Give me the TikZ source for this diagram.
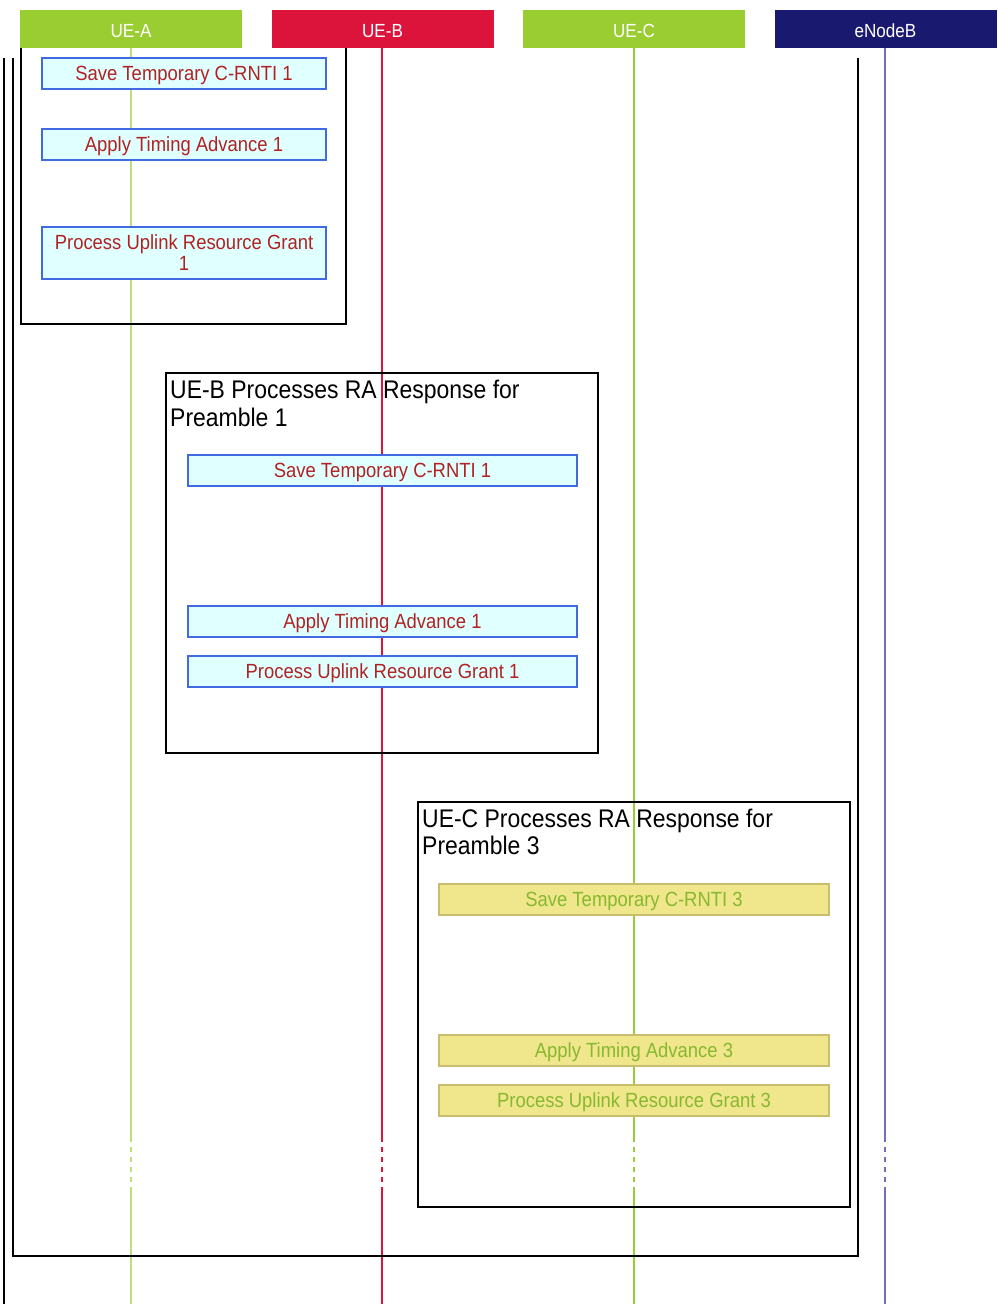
\documentclass[tikz,border=0pt]{standalone}
\usepackage{fontspec}
\setmainfont{Liberation Sans}[FakeStretch=0.9]
\definecolor{yellowgrn}{HTML}{9ACD32}
\definecolor{crimsonred}{HTML}{DC143C}
\definecolor{midnight}{HTML}{191970}
\definecolor{cyanfill}{HTML}{E0FFFF}
\definecolor{royal}{HTML}{4169E1}
\definecolor{brick}{HTML}{B22222}
\definecolor{khakifill}{HTML}{F0E68C}
\definecolor{khakiline}{HTML}{C8BE6E}
\definecolor{olivetext}{HTML}{88B830}
\definecolor{slateline}{HTML}{7070B8}
\begin{document}
\begin{tikzpicture}[x=1pt, y=-1pt,
    head/.style={rectangle, minimum width=222, minimum height=38, inner sep=0,
                 text height=17pt, text depth=0pt,
                 text=white, font=\fontsize{19}{21}\selectfont},
    actbox/.style={rectangle, draw=royal, fill=cyanfill, line width=2.5pt, inner sep=0,
                   text=brick, align=center, font=\fontsize{20.5}{21}\selectfont},
    actboxC/.style={actbox, draw=khakiline, fill=khakifill, text=olivetext},
    oneline/.style={text height=15pt, text depth=2pt},
    frame/.style={draw=black, line width=2.5pt},
    frametitle/.style={anchor=north west, inner sep=0, align=left,
                       font=\fontsize{25.5}{27.6}\selectfont}]
  \useasboundingbox (0,0) rectangle (997,1304);
  % participants
  \node[head, fill=yellowgrn]  (ueA) at (131,29)   {UE-A};
  \node[head, fill=crimsonred] (ueB) at (382.5,29) {UE-B};
  \node[head, fill=yellowgrn]  (ueC) at (634,29)   {UE-C};
  \node[head, fill=midnight]   (enb) at (885.5,29) {eNodeB};
  % lifelines
  \foreach \p/\x/\c in {ueA/131/yellowgrn!65, ueB/382/crimsonred, ueC/634/yellowgrn, enb/885/slateline} {
    \coordinate (\p-d1) at (\x,1137);
    \coordinate (\p-d2) at (\x,1190);
    \coordinate (\p-end) at (\x,1304);
    \draw[\c, line width=1.2pt] (\x,48) -- (\p-d1);
    \draw[\c, line width=1.2pt, dash pattern=on 5pt off 5pt] (\p-d1) -- (\p-d2);
    \draw[\c, line width=1.2pt] (\p-d2) -- (\p-end);
  }
  % enclosing frames
  \draw[frame] (4,58) -- (4,1304);
  \draw[frame] (13,58) -- (13,1256) -- (858,1256) -- (858,58);
  \draw[frame] (21,48) -- (21,324) -- (346,324) -- (346,48);
  \draw[frame] (166,373) rectangle (598,753);
  \draw[frame] (418,802) rectangle (850,1207);
  \node[frametitle] (titleB) at (170,380) {UE-B Processes RA Response for\\Preamble 1};
  \node[frametitle] (titleC) at (422,808.5) {UE-C Processes RA Response for\\Preamble 3};
  % UE-A actions
  \node[actbox, oneline, minimum width=284, minimum height=31] (saveA)  at (184,73.5)  {Save Temporary C-RNTI 1};
  \node[actbox, oneline, minimum width=284, minimum height=31] (tadvA)  at (184,144.5) {Apply Timing Advance 1};
  \node[actbox, minimum width=284, minimum height=52] (grantA) at (184,253)   {Process Uplink Resource Grant\\1};
  % UE-B actions
  \node[actbox, oneline, minimum width=389, minimum height=31] (saveB)  at (382.5,470.5) {Save Temporary C-RNTI 1};
  \node[actbox, oneline, minimum width=389, minimum height=31] (tadvB)  at (382.5,621.5) {Apply Timing Advance 1};
  \node[actbox, oneline, minimum width=389, minimum height=31] (grantB) at (382.5,671.5) {Process Uplink Resource Grant 1};
  % UE-C actions
  \node[actboxC, oneline, minimum width=390, minimum height=31] (saveC)  at (634,899.5)  {Save Temporary C-RNTI 3};
  \node[actboxC, oneline, minimum width=390, minimum height=31] (tadvC)  at (634,1050.5) {Apply Timing Advance 3};
  \node[actboxC, oneline, minimum width=390, minimum height=31] (grantC) at (634,1100.5) {Process Uplink Resource Grant 3};
\end{tikzpicture}
\end{document}
